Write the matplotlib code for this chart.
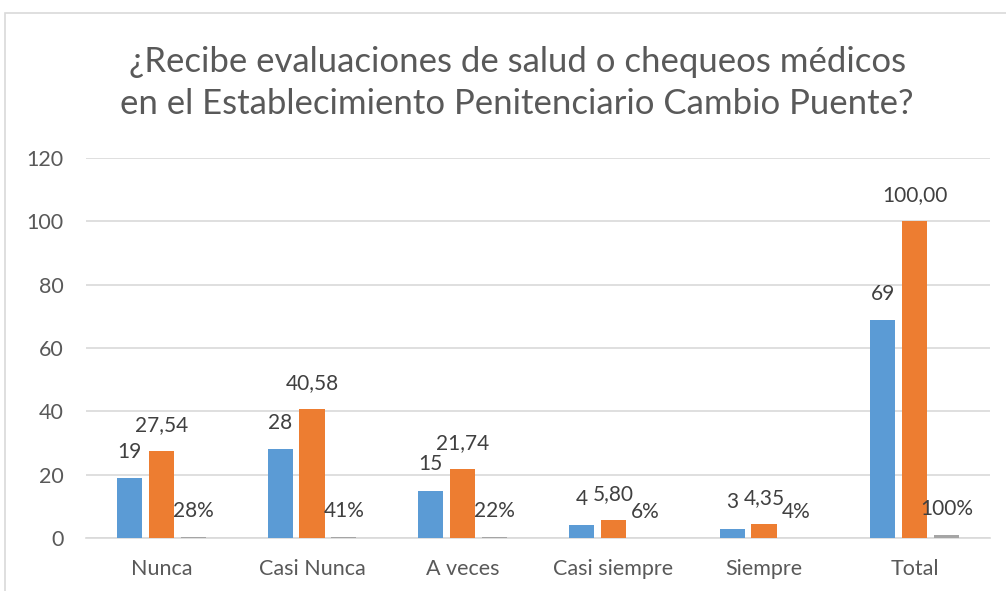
import matplotlib
matplotlib.use("Agg")
from matplotlib import pyplot as plt
from matplotlib.patches import Rectangle
import numpy as np

categorias = ["Nunca", "Casi Nunca", "A veces", "Casi siempre", "Siempre", "Total"]
frecuencia = [19, 28, 15, 4, 3, 69]
porcentaje = [27.54, 40.58, 21.74, 5.80, 4.35, 100.00]
proporcion = [0.28, 0.41, 0.22, 0.06, 0.04, 1.00]

titulo = ("¿Recibe evaluaciones de salud o chequeos médicos\n"
          "en el Establecimiento Penitenciario Cambio Puente?")

plt.rcParams["font.family"] = ["Lato", "DejaVu Sans"]

fig = plt.figure(figsize=(10.06, 5.91), dpi=100)
# marco del grafico
fig.patches.append(Rectangle((5 / 1006, -0.1), 1.2, 1.1 - 13 / 591,
                             transform=fig.transFigure, fill=False,
                             edgecolor="#D9D9D9", linewidth=1.2))

ax = fig.add_axes([86 / 1006, 53 / 591, 904 / 1006, 380 / 591])
x = np.arange(len(categorias))
ancho = 0.166
paso = 0.212

series = [
    (frecuencia, "#5B9BD5", [str(v) for v in frecuencia]),
    (porcentaje, "#ED7D31", [f"{v:.2f}".replace(".", ",") for v in porcentaje]),
    (proporcion, "#A5A5A5", [f"{v * 100:.0f}%" for v in proporcion]),
]

for i, (valores, color, etiquetas) in enumerate(series):
    pos = x + (i - 1) * paso
    ax.bar(pos, valores, width=ancho, color=color, zorder=3)
    for p, v, t in zip(pos, valores, etiquetas):
        ax.annotate(t, (p, v), xytext=(0, 26), textcoords="offset pixels",
                    ha="center", va="center", fontsize=15, color="#404040")

ax.set_xlim(-0.5, 5.5)
ax.set_ylim(0, 120)
ax.set_yticks(range(0, 121, 20))
ax.set_xticks(x)
ax.set_xticklabels(categorias)
ax.grid(axis="y", color="#D9D9D9", linewidth=1.2, zorder=0)
for lado in ["top", "right", "left"]:
    ax.spines[lado].set_visible(False)
ax.spines["bottom"].set_color("#D9D9D9")
ax.spines["bottom"].set_linewidth(1.2)
ax.tick_params(axis="both", length=0, colors="#595959", labelsize=15.5)
ax.tick_params(axis="y", pad=16)
ax.tick_params(axis="x", pad=15)

fig.text(0.514, 0.86, titulo, ha="center", va="center", fontsize=25,
         color="#595959", linespacing=1.4)

fig.savefig("out.png", dpi=100)
